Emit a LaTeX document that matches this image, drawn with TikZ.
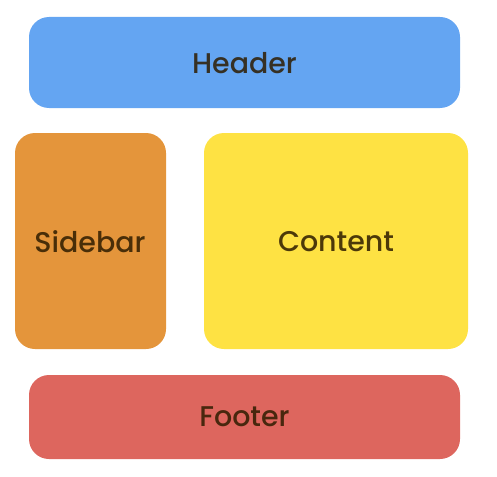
\documentclass[tikz,border=0pt]{standalone}
\usepackage{fontspec}
\setmainfont{Poppins}[UprightFont=*-Medium]
\definecolor{hdr}{HTML}{64A5F2}
\definecolor{side}{HTML}{E4953B}
\definecolor{cont}{HTML}{FEE243}
\definecolor{foot}{HTML}{DD665E}
\definecolor{ink}{HTML}{2E1C00}
\begin{document}
\begin{tikzpicture}[x=1pt,y=-1pt,
  panel/.style={rounded corners=20pt},
  lbl/.style={text=ink,text opacity=0.85,font=\fontsize{28.5}{34}\selectfont}]
\useasboundingbox (0,0) rectangle (497,476);
\fill[hdr,panel] (29,17) rectangle (460,108);
\fill[side,panel] (15,133) rectangle (166,349);
\fill[cont,panel] (204,133) rectangle (468,349);
\fill[foot,panel] (29,375) rectangle (460,459);
\node[lbl] (header) at (244.5,63) {Header};
\node[lbl] (sidebar) at (90,242) {Sidebar};
\node[lbl] (content) at (336,242) {Content};
\node[lbl] (footer) at (244.5,417) {Footer};
\end{tikzpicture}
\end{document}
